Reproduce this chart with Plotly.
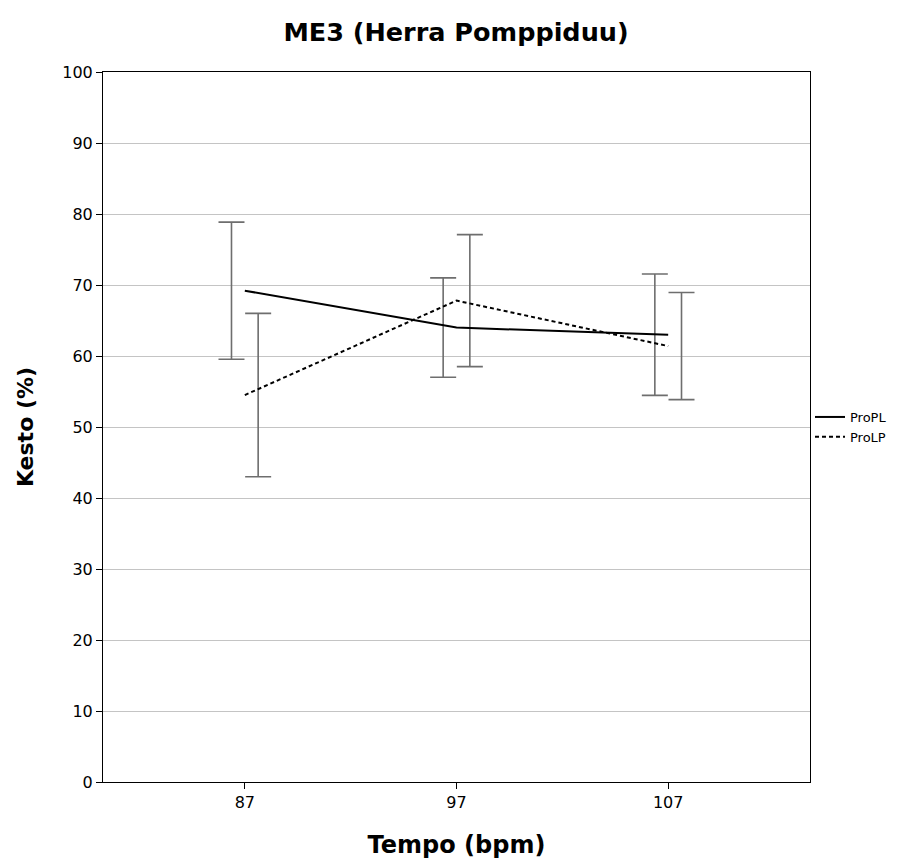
import plotly.graph_objects as go

tempo = [87, 97, 107]
series_names = ["ProPL", "ProLP"]
propl_mean = [69.2, 64.0, 63.0]
propl_ci = [9.65, 7.0, 8.55]
prolp_mean = [54.5, 67.8, 61.4]
prolp_ci = [11.5, 9.3, 7.55]
y_ticks = [0, 10, 20, 30, 40, 50, 60, 70, 80, 90, 100]

offset = 0.63
font = "DejaVu Sans"

fig = go.Figure()

# error bars (dodged)
for means, ci, off in [(propl_mean, propl_ci, -offset), (prolp_mean, prolp_ci, offset)]:
    fig.add_trace(go.Scatter(
        x=[t + off for t in tempo], y=means, mode="markers",
        marker=dict(size=1, color="rgba(0,0,0,0)"),
        error_y=dict(type="data", array=ci, visible=True, color="#6e6e6e",
                     thickness=1.6, width=13),
        showlegend=False, hoverinfo="skip"))

fig.add_trace(go.Scatter(x=tempo, y=propl_mean, mode="lines", name=series_names[0],
                         line=dict(color="black", width=2)))
fig.add_trace(go.Scatter(x=tempo, y=prolp_mean, mode="lines", name=series_names[1],
                         line=dict(color="black", width=2, dash="4px,3px")))

fig.update_layout(
    width=912, height=859,
    margin=dict(l=103, r=102, t=72, b=77),
    paper_bgcolor="white", plot_bgcolor="white",
    font=dict(family=font, color="black"),
    title=dict(text="<b>ME3 (Herra Pomppiduu)</b>", x=0.5, xanchor="center",
               y=1 - 32 / 859, yanchor="middle", yref="container",
               font=dict(size=25.5, family=font)),
    legend=dict(x=1.0, xanchor="left", y=0.5, yanchor="middle",
                font=dict(size=13, family=font), itemwidth=30,
                bgcolor="rgba(0,0,0,0)", tracegroupgap=0),
    xaxis=dict(range=[80.3, 113.7], tickvals=tempo, ticktext=[str(t) for t in tempo],
               automargin=False,
               showgrid=False, zeroline=False, showline=True, linecolor="black",
               linewidth=1, mirror=True, ticks="outside", ticklen=6, tickcolor="black",
               tickfont=dict(size=16),
               title=dict(text="<b>Tempo (bpm)</b>", font=dict(size=24), standoff=24)),
    yaxis=dict(range=[0, 100], tickvals=y_ticks, showgrid=True, gridcolor="#c4c4c4",
               automargin=False,
               gridwidth=1, zeroline=False, showline=True, linecolor="black",
               linewidth=1, mirror=True, ticks="outside", ticklen=6, tickcolor="black",
               tickfont=dict(size=16),
               title=dict(text="<b>Kesto (%)</b>", font=dict(size=22), standoff=22)),
)

fig.write_html("out.html")
